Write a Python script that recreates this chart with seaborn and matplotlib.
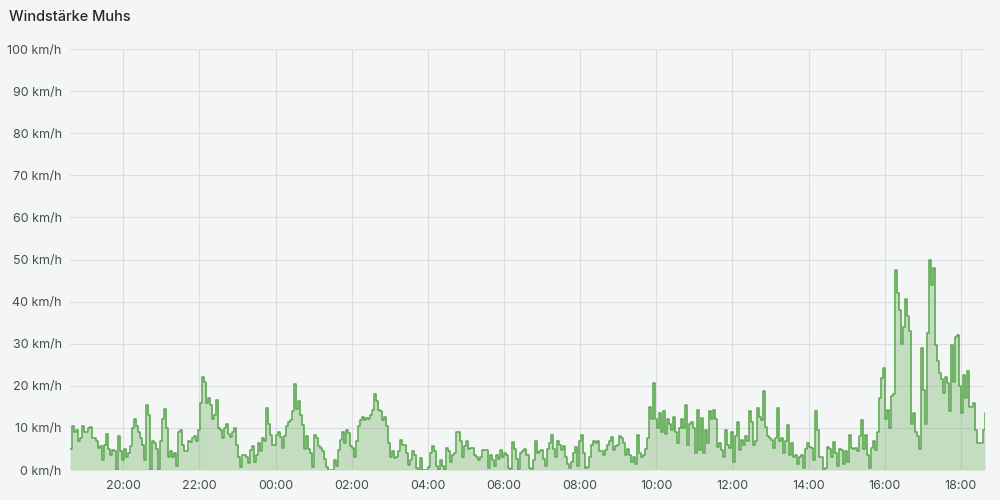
import matplotlib
matplotlib.use("Agg")
import matplotlib.pyplot as plt
import matplotlib.dates as mdates
import numpy as np
import pandas as pd
import seaborn as sns

# panel time window
start_time = "2023-06-01 18:36"
end_time = "2023-06-02 18:38"

# wind speed readings (km/h), evenly spaced over the window, split in blocks
wind_evening = [
    5, 10.5, 9, 9.5, 7, 7.5, 10.5, 9, 9, 10, 10.3, 7.5, 7.5, 6.8, 5.2, 5.6, 2.4, 6, 8.5, 5,
    3.6, 4.8, 4.6, 0, 8, 4.4, 2.4, 5, 3, 4, 5.6, 10, 12, 10.5, 9, 7.5, 6, 2.4, 15.5, 13,
    0, 7, 6.3, 5, 0, 7, 12, 14.5, 10, 3.2, 4.4, 3.2, 4, 1, 9, 9.5, 6, 4.5, 4.5, 7,
    6.7, 7.5, 8, 7, 9.5, 16, 22, 21, 16, 17, 15.5, 12, 13, 16.7, 10,
]
wind_midnight = [
    9.5, 7.5, 10, 11, 8.5, 7.9, 9, 10, 6, 3.2, 0.8, 3.6, 3.5, 3, 1.6, 4.8, 5.6, 2, 3.5, 6.3,
    4.4, 7.5, 7, 14.7, 11, 8.3, 6, 6, 8.3, 9, 7.9, 5.2, 8, 10.5, 11.5, 11.9, 14, 20.5, 14.5, 16.3,
    13.1, 10.7, 5, 8, 5, 4, 0.8, 8.3, 7.5, 5.6, 5.2, 4.4, 2.5, 0.8, 0, 0, 0, 2.4, 1, 4.8,
    7.1, 9.1, 6.5, 9.5, 8.7, 5.6, 5.2, 3.2, 7, 10.5, 11.9, 12.7, 11.8, 12.3, 12,
]
wind_night = [
    13.1, 14.3, 18, 16.3, 14.3, 14, 11.9, 12.5, 10.5, 6.5, 3, 4.4, 2.8, 3, 4.4, 7.1, 6, 6, 4, 1.2,
    2.4, 4.4, 3.6, 0.5, 0, 2.8, 0, 0, 0, 0.8, 4, 5.8, 4.4, 1, 0, 2.4, 1, 0, 5.2, 4.5,
    2, 3.6, 4, 9.1, 9, 7, 3.2, 5.6, 7, 5, 5.2, 5.2, 3.6, 3, 2.4, 3.2, 4.8, 4.8, 4.8, 0.5,
    3.6, 2.4, 1, 3.6, 2.5, 4.8, 3, 4, 3.5, 0.5, 0, 6.7, 5, 2.5, 0,
]
wind_morning = [
    4, 4.4, 5, 3.5, 0.5, 0, 2.4, 7, 4, 4.4, 4.8, 2.6, 1, 5, 6.3, 8.3, 5, 3, 7, 6,
    4.8, 5.6, 3, 1.5, 0.5, 2, 4, 5.5, 1, 7, 8.3, 4, 0.5, 0.8, 3, 6, 7, 6.3, 7, 4.4,
    4.4, 3.6, 4.8, 6, 7, 7.9, 4.8, 5.6, 6, 8, 7.5, 6.3, 3.6, 5, 3.6, 2, 3.2, 1.5, 8.3, 4,
    3.2, 3.6, 5, 7.5, 15, 12, 20.6, 12, 10, 13.5, 9, 14, 8.5, 12, 11,
]
wind_midday = [
    9.5, 12.5, 9, 6.5, 10, 12, 10, 15.5, 6, 11, 11.5, 10, 4, 14.3, 4.8, 12.3, 4, 9.5, 6.5, 14,
    12, 14.3, 12, 5.5, 6.5, 4.8, 3, 9.5, 6, 5.2, 9.1, 2, 8, 11.5, 4.8, 7.1, 6, 8, 7, 13.9,
    11.5, 6, 7, 14.7, 12.5, 11.9, 18.7, 10.3, 8, 7.5, 7.1, 5.2, 7.5, 14.7, 7, 7.5, 4, 7, 10.7, 3.6,
    6.3, 3.2, 3.6, 1.5, 3, 3.6, 0.5, 5, 6.5, 5.5, 5.2, 2.4, 14, 9.5, 3,
]
wind_afternoon = [
    3.2, 0, 0.5, 5.5, 5, 3.2, 6.7, 4, 1, 5, 4.8, 1.5, 4.5, 2, 8.3, 5.2, 5, 5.2, 4.4, 8,
    11.9, 5, 8.3, 3.5, 0.5, 5.2, 7, 4.8, 9, 17, 21.8, 24.2, 12, 14.3, 10, 17.5, 18, 47.6, 42, 38,
    30, 34, 40.5, 36.5, 33, 11, 13.5, 9, 8, 5, 29, 19, 11, 32.5, 50, 44, 48, 29.8, 26, 23,
    21.5, 18.3, 22, 20.6, 14, 29.8, 21, 31.7, 32, 20, 13.5, 22.6, 17, 23.4, 15, 15, 16, 9.5, 6.5, 6.3,
    6.3, 9.5, 13.5,
]

y_ticks = list(range(0, 101, 10))

wind = np.concatenate([wind_evening, wind_midnight, wind_night,
                       wind_morning, wind_midday, wind_afternoon])
times = pd.date_range(start_time, end_time, periods=len(wind))
df = pd.DataFrame({"time": times, "speed": wind})

bg = "#f4f5f5"
green = "#56a64b"

sns.set_theme(style="white")
plt.rcParams["font.family"] = ["Inter", "DejaVu Sans"]

fig = plt.figure(figsize=(10, 5), dpi=100, facecolor=bg)
ax = fig.add_axes([0.07, 0.06, 0.915, 0.842])
ax.set_facecolor(bg)

ax.fill_between(df["time"], df["speed"], step="post", color=green, alpha=0.3,
                linewidth=0, zorder=2)
sns.lineplot(data=df, x="time", y="speed", ax=ax, color=green,
             linewidth=1.1, drawstyle="steps-post", zorder=3)

ax.set_xlim(times[0], times[-1])
ax.set_ylim(0, 100)
ax.set_yticks(y_ticks)
ax.set_yticklabels([f"{v} km/h" for v in y_ticks])
ax.xaxis.set_major_locator(mdates.HourLocator(byhour=range(0, 24, 2)))
ax.xaxis.set_major_formatter(mdates.DateFormatter("%H:%M"))

ax.grid(True, color="#dcdddf", linewidth=0.8)
ax.set_axisbelow(True)
for s in ax.spines.values():
    s.set_visible(False)
ax.tick_params(axis="both", length=0, labelsize=9, colors="#464c54")
ax.tick_params(axis="x", pad=7)
ax.tick_params(axis="y", pad=6)
ax.set_xlabel("")
ax.set_ylabel("")

fig.text(0.009, 0.966, "Windstärke Muhs", fontsize=10.5, fontweight="medium",
         color="#24292e", va="center", ha="left")

fig.savefig("out.png", dpi=100, facecolor=bg)
